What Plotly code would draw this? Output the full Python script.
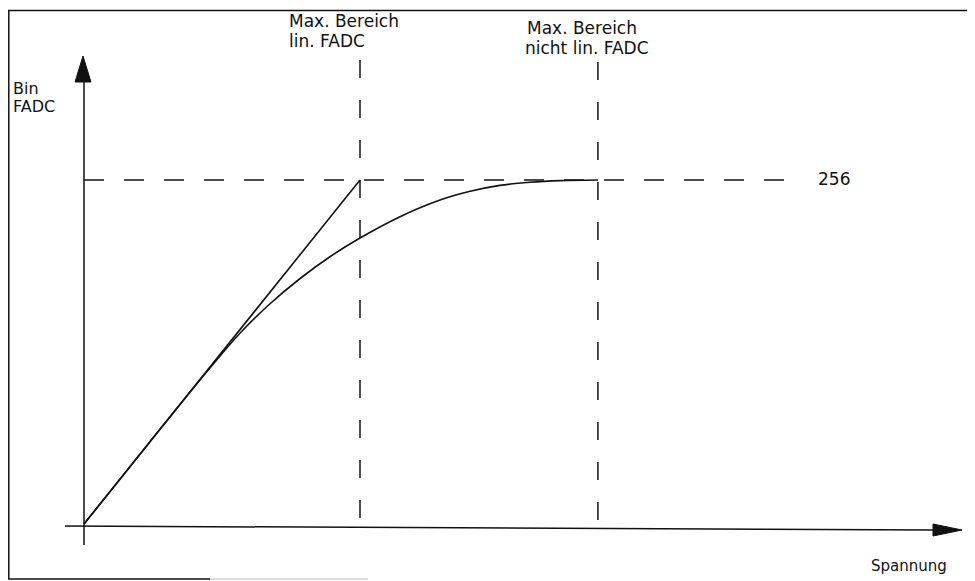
import plotly.graph_objects as go

# ---- data (Spannung in units of "max. lin. range", Bin FADC) ----
spannung = [0, 0.239, 0.457, 0.565, 0.674, 0.783, 0.891, 1.000, 1.145, 1.290, 1.399, 1.507, 1.616, 1.725, 1.862]
bin_nonlin = [0, 61.3, 116.3, 142.0, 163.9, 182.7, 198.9, 212.8, 228.7, 241.1, 247.6, 252.0, 254.3, 255.5, 256]
lin_x = [0, 1.0]
lin_y = [0, 256]
bin_max = 256
x_max_lin = 1.0
x_max_nonlin = 1.862

W, H = 975, 581
OFF = 8                        # page body margin offset
X0PX, Y0PX = 84, 524           # window pixel position of origin
XS = 276.0                     # px per Spannung unit
YS = 344.0 / 256.0             # px per bin

def px_x(p):
    return (p - X0PX) / XS

def px_y(p):
    return (Y0PX - p) / YS

fig = go.Figure()
black = "#111111"

# dashed guides
fig.add_trace(go.Scatter(x=[0, px_x(798)], y=[bin_max, bin_max], mode="lines",
                         line=dict(color=black, width=1.5, dash="20px,20px"), hoverinfo="skip"))
fig.add_trace(go.Scatter(x=[x_max_lin, x_max_lin], y=[px_y(60), 0], mode="lines",
                         line=dict(color=black, width=1.5, dash="18px,22px"), hoverinfo="skip"))
fig.add_trace(go.Scatter(x=[x_max_nonlin, x_max_nonlin], y=[px_y(62), 0], mode="lines",
                         line=dict(color=black, width=1.5, dash="18px,22px"), hoverinfo="skip"))

# axes
fig.add_trace(go.Scatter(x=[0, 0], y=[px_y(545), px_y(80)], mode="lines",
                         line=dict(color=black, width=1.5), hoverinfo="skip"))
fig.add_trace(go.Scatter(x=[px_x(65), px_x(935)], y=[px_y(526), px_y(530)], mode="lines",
                         line=dict(color=black, width=1.5), hoverinfo="skip"))
# arrow heads
fig.add_trace(go.Scatter(x=[px_x(75), px_x(83), px_x(91), px_x(75)],
                         y=[px_y(82), px_y(56), px_y(82), px_y(82)],
                         mode="lines", fill="toself", fillcolor=black,
                         line=dict(color=black, width=1), hoverinfo="skip"))
fig.add_trace(go.Scatter(x=[px_x(933), px_x(962), px_x(933), px_x(933)],
                         y=[px_y(524), px_y(530), px_y(536), px_y(524)],
                         mode="lines", fill="toself", fillcolor=black,
                         line=dict(color=black, width=1), hoverinfo="skip"))

# linear response
fig.add_trace(go.Scatter(x=lin_x, y=lin_y, mode="lines",
                         line=dict(color=black, width=1.6), hoverinfo="skip"))
# non-linear response
fig.add_trace(go.Scatter(x=spannung, y=bin_nonlin, mode="lines",
                         line=dict(color=black, width=1.6, shape="spline", smoothing=1.0),
                         hoverinfo="skip"))

def ann(text, xp, yp, size=16, anchor="left"):
    fig.add_annotation(text=text, xref="paper", yref="paper",
                       x=(xp - OFF) / W, y=1 - (yp - OFF) / H, xanchor=anchor, yanchor="middle",
                       showarrow=False, align="left",
                       font=dict(family="DejaVu Sans", size=size, color=black))

ann("Max. Bereich", 287, 21, size=17)
ann("lin. FADC", 287, 41, size=17)
ann("Max. Bereich", 525, 28, size=17)
ann("nicht lin. FADC", 523, 48, size=17)
ann("Bin", 11, 88, size=16)
ann("FADC", 11, 106, size=16)
ann("256", 816, 179, size=17)
ann("Spannung", 949, 566, size=15, anchor="right")

def hline(x0, x1, y, color=black, width=1.5):
    fig.add_shape(type="line", xref="paper", yref="paper",
                  x0=(x0 - OFF) / W, x1=(x1 - OFF) / W,
                  y0=1 - (y - OFF) / H, y1=1 - (y - OFF) / H,
                  line=dict(color=color, width=width))

# page border
hline(OFF, W + OFF, 10.5)
fig.add_shape(type="line", xref="paper", yref="paper", x0=0.8 / W, x1=0.8 / W,
              y0=1 - (10 - OFF) / H, y1=1 - (579 - OFF) / H,
              line=dict(color=black, width=1.5))
hline(OFF, 210, 579)
hline(210, 368, 579, color="#bbbbbb", width=1)

fig.update_layout(
    width=W, height=H, margin=dict(l=0, r=0, t=0, b=0),
    paper_bgcolor="white", plot_bgcolor="white", showlegend=False,
    xaxis=dict(range=[px_x(OFF), px_x(W + OFF)], visible=False, fixedrange=True),
    yaxis=dict(range=[px_y(H + OFF), px_y(OFF)], visible=False, fixedrange=True),
)

fig.write_html("out.html")
